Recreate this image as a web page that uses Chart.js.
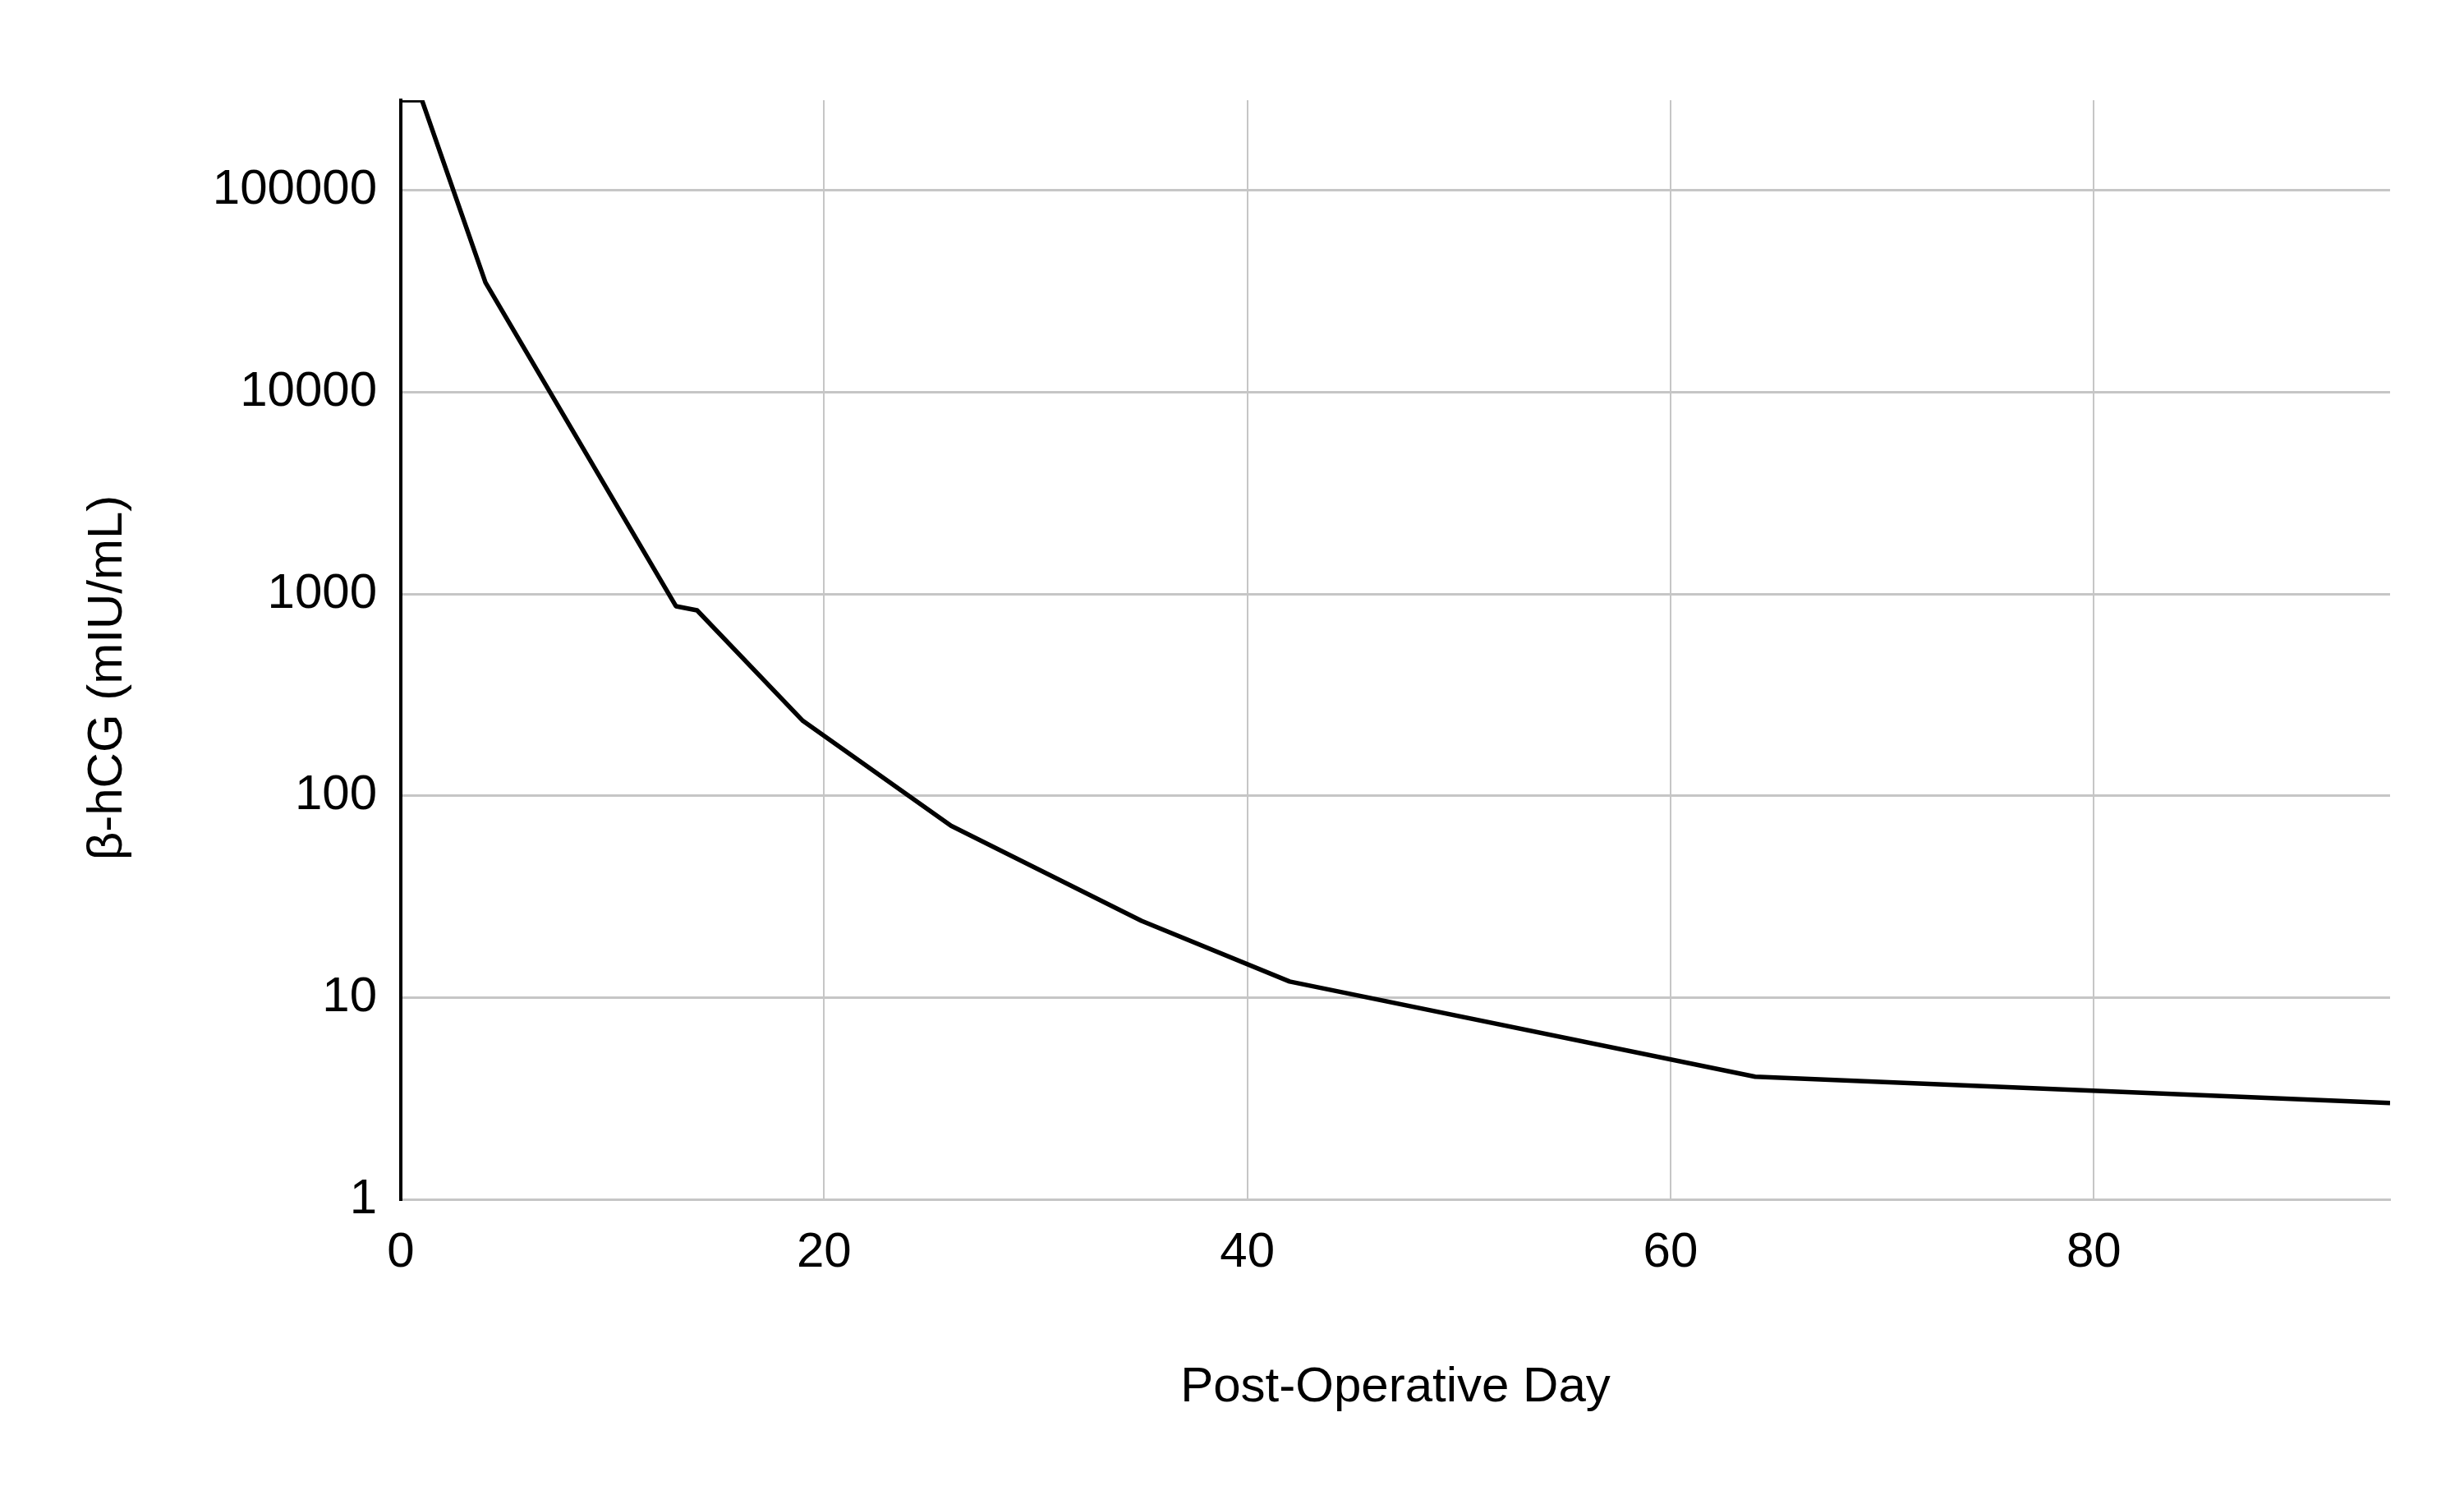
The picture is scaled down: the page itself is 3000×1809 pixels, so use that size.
<!DOCTYPE html>
<html>
<head>
<meta charset="utf-8">
<title>β-hCG</title>
<script src="https://cdn.jsdelivr.net/npm/chart.js@4.4.1/dist/chart.umd.min.js"></script>
<style>
  html, body { margin:0; padding:0; background:#fff; }
  #wrap { width:3000px; height:1809px; position:relative; }
</style>
</head>
<body>
<div id="wrap"><canvas id="chart"></canvas></div>
<script>
// serum b-hCG after surgery, log scale
const jours = [0, 1, 4, 13, 14, 19, 26, 35, 42, 64, 94];
const hcg = [280000, 280000, 35000, 870, 830, 235, 71, 24, 12, 4.05, 3.0];
const ticksX = [0, 20, 40, 60, 80];
const ticksY = [1, 10, 100, 1000, 10000, 100000];
const titreAxeY = 'β-hCG (mIU/mL)';

const police = { family: '"Liberation Sans", Arial, sans-serif', size: 60 };
const gris = '#c6c6c6';

// y title sits a bit below the middle of the plot in the original
const pluginTitreY = {
  id: 'titreY',
  afterDraw(chart) {
    const ctx = chart.ctx, a = chart.chartArea;
    ctx.save();
    ctx.translate(131, (a.top + a.bottom) / 2 + 34);
    ctx.rotate(-Math.PI / 2);
    ctx.font = police.size + 'px ' + police.family;
    ctx.fillStyle = '#000';
    ctx.textAlign = 'center';
    ctx.textBaseline = 'middle';
    ctx.fillText(titreAxeY, 0, 0);
    ctx.restore();
  }
};

new Chart(document.getElementById('chart'), {
  type: 'line',
  data: {
    datasets: [{
      data: jours.map((j, i) => ({ x: j, y: hcg[i] })),
      borderColor: '#000',
      borderWidth: 5.5,
      borderJoinStyle: 'round',
      tension: 0,
      pointRadius: 0,
      fill: false
    }]
  },
  options: {
    responsive: true,
    maintainAspectRatio: false,
    animation: false,
    layout: { padding: { top: 122, right: 90, left: 0, bottom: 0 } },
    plugins: { legend: { display: false }, tooltip: { enabled: false } },
    scales: {
      x: {
        type: 'linear',
        min: 0,
        max: 94,
        afterBuildTicks: s => { s.ticks = ticksX.map(v => ({ value: v })); },
        afterFit: s => { s.height = 349; },
        grid: {
          drawTicks: false,
          lineWidth: 2,
          color: c => c.tick && c.tick.value === 0 ? 'rgba(0,0,0,0)' : gris
        },
        border: { display: true, color: gris, width: 3 },
        ticks: { padding: 29, color: '#000', font: police, maxRotation: 0 },
        title: {
          display: true,
          text: 'Post-Operative Day',
          color: '#000',
          font: police,
          padding: { top: 0, bottom: 84 }
        }
      },
      y: {
        type: 'logarithmic',
        min: 1,
        max: 280000,
        afterBuildTicks: s => { s.ticks = ticksY.map(v => ({ value: v })); },
        afterFit: s => { s.width = 488; },
        grid: { drawTicks: false, lineWidth: 3, color: gris },
        border: { display: true, color: '#000', width: 4 },
        ticks: { padding: 29, color: '#000', font: police, callback: v => String(v) },
        title: { display: false }
      }
    }
  },
  plugins: [pluginTitreY]
});
</script>
</body>
</html>
